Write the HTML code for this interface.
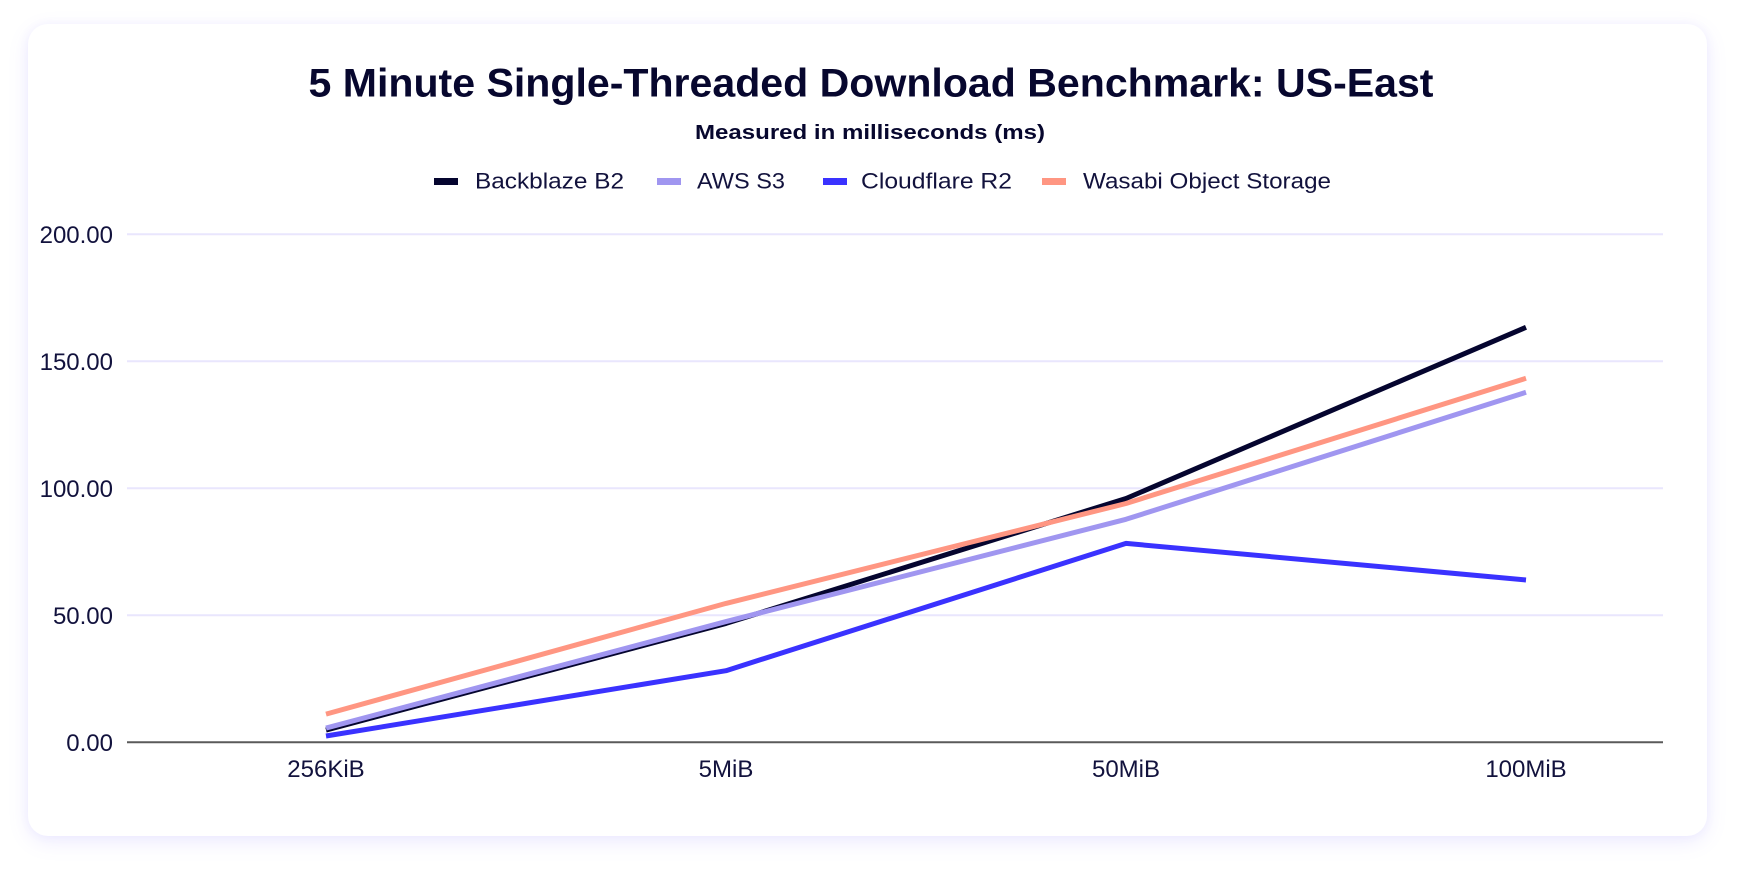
<!DOCTYPE html>
<html>
<head>
<meta charset="utf-8">
<style>
  html, body { margin: 0; padding: 0; background: #ffffff; }
  body { width: 1748px; height: 886px; position: relative; overflow: hidden; font-family: "Liberation Sans", sans-serif; }
  .card {
    position: absolute; left: 28px; top: 24px; width: 1679px; height: 812px;
    background: #ffffff; border-radius: 20px;
    box-shadow: 0 6px 20px rgba(120,110,255,0.13), 0 0 10px rgba(120,110,255,0.06);
  }
  svg { position: absolute; left: 0; top: 0; }
</style>
</head>
<body>
<div class="card"></div>
<svg width="1748" height="886" viewBox="0 0 1748 886" xmlns="http://www.w3.org/2000/svg" font-family="Liberation Sans, sans-serif">
  <!-- Title -->
  <text x="871" y="96.5" text-anchor="middle" font-size="40" font-weight="bold" fill="#07072e" textLength="1125" lengthAdjust="spacingAndGlyphs">5 Minute Single-Threaded Download Benchmark: US-East</text>
  <text x="870" y="139" text-anchor="middle" font-size="20" font-weight="bold" fill="#07072e" textLength="350" lengthAdjust="spacingAndGlyphs">Measured in milliseconds (ms)</text>

  <!-- Legend -->
  <rect x="434" y="178" width="24" height="7" fill="#05052f"/>
  <text x="475" y="188.5" font-size="22" fill="#12123d" textLength="149" lengthAdjust="spacingAndGlyphs">Backblaze B2</text>
  <rect x="657" y="178" width="24" height="7" fill="#a096f0"/>
  <text x="697" y="188.5" font-size="22" fill="#12123d" textLength="88" lengthAdjust="spacingAndGlyphs">AWS S3</text>
  <rect x="823" y="178" width="24" height="7" fill="#3a32ff"/>
  <text x="861" y="188.5" font-size="22" fill="#12123d" textLength="151" lengthAdjust="spacingAndGlyphs">Cloudflare R2</text>
  <rect x="1042" y="178" width="24" height="7" fill="#ff9682"/>
  <text x="1083" y="188.5" font-size="22" fill="#12123d" textLength="248" lengthAdjust="spacingAndGlyphs">Wasabi Object Storage</text>

  <!-- Gridlines -->
  <g stroke="#e9e6fd" stroke-width="2">
    <line x1="127" y1="234.3" x2="1663" y2="234.3"/>
    <line x1="127" y1="361.3" x2="1663" y2="361.3"/>
    <line x1="127" y1="488.3" x2="1663" y2="488.3"/>
    <line x1="127" y1="615.3" x2="1663" y2="615.3"/>
  </g>
  <line x1="127" y1="742.3" x2="1663" y2="742.3" stroke="#5a5a5a" stroke-width="2"/>

  <!-- Y labels -->
  <g font-size="24" fill="#12123d" text-anchor="end">
    <text x="113" y="243">200.00</text>
    <text x="113" y="370">150.00</text>
    <text x="113" y="497">100.00</text>
    <text x="113" y="624">50.00</text>
    <text x="113" y="751">0.00</text>
  </g>

  <!-- X labels -->
  <g font-size="24" fill="#12123d" text-anchor="middle">
    <text x="326" y="777">256KiB</text>
    <text x="726" y="777">5MiB</text>
    <text x="1126" y="777">50MiB</text>
    <text x="1526" y="777">100MiB</text>
  </g>

  <!-- Series -->
  <g fill="none" stroke-width="5" stroke-linejoin="round">
    <polyline stroke="#05052f" points="326,730.1 726,623.4 1126,498.5 1526,327.3"/>
    <polyline stroke="#a096f0" points="326,728.1 726,621.6 1126,519.3 1526,392.3"/>
    <polyline stroke="#3a32ff" points="326,736 726,670.7 1126,543.4 1526,580"/>
    <polyline stroke="#ff9682" points="326,714.1 726,603.4 1126,503.5 1526,378.3"/>
  </g>
</svg>
</body>
</html>
